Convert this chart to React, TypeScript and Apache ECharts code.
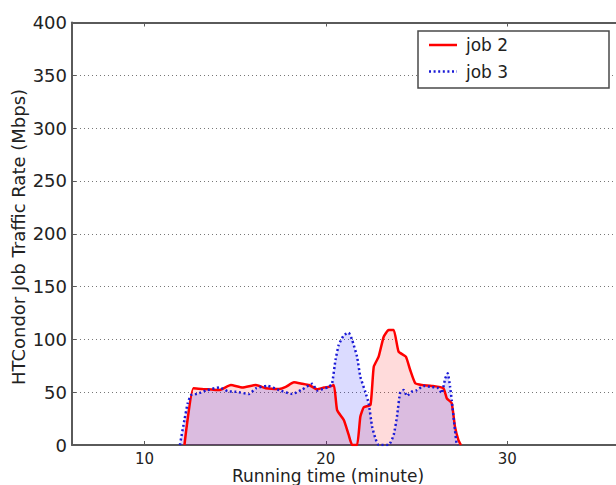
import React, { useEffect, useRef } from "react";
import * as echarts from "echarts";

// Running time (minute) and traffic rate (Mbps)
const job2X = [12.2, 12.69, 13.2, 13.7, 14.12, 14.76, 15.4, 16.14, 16.69, 17.42, 17.79, 18.24, 18.7, 19.07, 19.52, 19.9, 20.16, 20.44, 20.62, 20.99, 21.26, 21.45, 21.72, 21.9, 22.09, 22.46, 22.64, 22.91, 23.19, 23.46, 23.74, 24.01, 24.41, 24.65, 24.93, 25.29, 25.84, 26.48, 26.67, 26.94, 27.12, 27.31, 27.45];
const job2Y = [0, 53.7, 53, 52.5, 52, 56.8, 54.5, 56.8, 53.7, 53, 55, 59.4, 58, 56.8, 52.7, 54.5, 55, 56.8, 33, 23.7, 9.5, 0, 0, 26.8, 35.7, 38, 74, 83.6, 102.5, 108.9, 108.9, 88.4, 83.6, 71, 58.4, 56.8, 55.9, 53.7, 44.2, 39.5, 17.4, 4.7, 0];

const job3X = [11.95, 12.2, 12.38, 12.57, 12.93, 13.39, 14.12, 14.58, 15.04, 15.77, 16.14, 16.77, 17.42, 18.15, 18.7, 19.25, 19.52, 20.16, 20.34, 20.53, 20.71, 20.99, 21.26, 21.45, 21.72, 21.9, 22.18, 22.36, 22.55, 22.73, 22.91, 23.46, 23.74, 23.92, 24.1, 24.29, 24.47, 24.74, 25.02, 25.38, 25.84, 26.21, 26.39, 26.58, 26.72, 26.85, 26.94, 27.12, 27.21, 27.3];
const job3Y = [0, 23.7, 39.5, 47.3, 48.5, 51.6, 54.5, 51, 50.4, 48.3, 53.7, 56, 52, 48.3, 52.7, 58, 51.6, 55, 58, 80.5, 94.7, 104, 106.3, 99.4, 83.6, 64.7, 50, 39.5, 17.4, 6.3, 0, 0, 9.5, 26.8, 50, 52, 46.4, 50.5, 52, 55.9, 55, 53.7, 49, 63, 68, 55, 42.6, 14, 1.5, 0];

const xTicks = [10, 20, 30];
const yTicks = [0, 50, 100, 150, 200, 250, 300, 350, 400];
const seriesNames = ["job 2", "job 3"];
const xTitle = "Running time (minute)";
const yTitle = "HTCondor Job Traffic Rate (Mbps)";

const FONT = "DejaVu Sans";

export default function App() {
  const ref = useRef<HTMLDivElement>(null);
  useEffect(() => {
    const chart = echarts.init(ref.current!, null, { renderer: "svg" });
    const d2 = job2X.map((x, i) => [x, job2Y[i]]);
    const d3 = job3X.map((x, i) => [x, job3Y[i]]);
    const axisLine = { show: true, lineStyle: { color: "#5a5a5a", width: 2 } };
    chart.setOption({
      animation: false,
      backgroundColor: "#ffffff",
      textStyle: { fontFamily: FONT },
      grid: { left: 72, top: 22.5, bottom: 40, right: -2.2 },
      xAxis: [
        {
          type: "value",
          min: 6,
          max: 36,
          position: "bottom",
          axisLine,
          axisTick: { show: true, inside: true, length: 4, customValues: xTicks, lineStyle: { color: "#5a5a5a" } },
          axisLabel: { customValues: xTicks, fontSize: 15, color: "#222", margin: 6, fontFamily: FONT },
          splitLine: { show: false },
        },
        {
          type: "value",
          min: 6,
          max: 36,
          position: "top",
          axisLine,
          axisTick: { show: true, inside: true, length: 4, customValues: xTicks, lineStyle: { color: "#5a5a5a" } },
          axisLabel: { show: false },
          splitLine: { show: false },
        },
      ],
      yAxis: {
        type: "value",
        min: yTicks[0],
        max: yTicks[yTicks.length - 1],
        interval: 50,
        axisLine,
        axisTick: { show: true, inside: true, length: 4, lineStyle: { color: "#5a5a5a" } },
        axisLabel: { fontSize: 18, color: "#222", margin: 5, fontFamily: FONT },
        splitLine: { show: true, lineStyle: { color: "#777", width: 1, type: [1, 3] } },
      },
      series: [
        {
          name: seriesNames[0] + " area",
          type: "line",
          data: d2,
          symbol: "none",
          smooth: 0.15,
          lineStyle: { width: 0, opacity: 0 },
          areaStyle: { color: "rgba(255,0,0,0.2)", origin: "start" },
          z: 1,
        },
        {
          name: seriesNames[1] + " area",
          type: "line",
          data: d3,
          symbol: "none",
          smooth: 0.15,
          lineStyle: { width: 0, opacity: 0 },
          areaStyle: { color: "rgba(0,0,255,0.2)", origin: "start" },
          z: 1,
        },
        {
          name: seriesNames[0],
          type: "line",
          data: d2,
          symbol: "none",
          smooth: 0.15,
          lineStyle: { color: "#ff0000", width: 2.5 },
          z: 3,
        },
        {
          name: seriesNames[1],
          type: "line",
          data: d3,
          symbol: "none",
          smooth: 0.15,
          lineStyle: { color: "#1a1ad6", width: 2.5, type: [2, 2.6] },
          z: 4,
        },
      ],
      graphic: [
        {
          type: "rect",
          shape: { x: 418, y: 31, width: 191, height: 57 },
          style: { fill: "#ffffff", stroke: "#4a4a4a", lineWidth: 1.5 },
          z: 100,
        },
        {
          type: "line",
          shape: { x1: 429, y1: 45, x2: 457, y2: 45 },
          style: { stroke: "#ff0000", lineWidth: 2.5 },
          z: 101,
        },
        {
          type: "line",
          shape: { x1: 429, y1: 71.5, x2: 457, y2: 71.5 },
          style: { stroke: "#1a1ad6", lineWidth: 2.5, lineDash: [2, 2.6] },
          z: 101,
        },
        {
          type: "text",
          x: 466,
          y: 45,
          style: { text: seriesNames[0], fontSize: 17, fill: "#222", fontFamily: FONT, verticalAlign: "middle", align: "left" },
          z: 101,
        },
        {
          type: "text",
          x: 466,
          y: 71.5,
          style: { text: seriesNames[1], fontSize: 17, fill: "#222", fontFamily: FONT, verticalAlign: "middle", align: "left" },
          z: 101,
        },
        {
          type: "text",
          x: 328,
          y: 476,
          style: { text: xTitle, fontSize: 17, fill: "#222", fontFamily: FONT, verticalAlign: "middle", align: "center" },
        },
        {
          type: "text",
          x: 18,
          y: 237,
          rotation: Math.PI / 2,
          style: { text: yTitle, fontSize: 18, fill: "#222", fontFamily: FONT, verticalAlign: "middle", align: "center" },
        },
      ],
    });
    return () => chart.dispose();
  }, []);
  return <div ref={ref} style={{ position: "fixed", left: 0, top: 0, width: 616, height: 485 }} />;
}
